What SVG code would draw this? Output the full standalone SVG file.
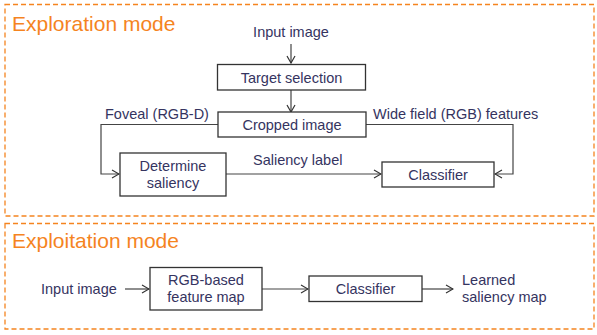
<svg xmlns="http://www.w3.org/2000/svg" width="597" height="335" viewBox="0 0 597 335">
<defs>
<style>
.frame{fill:none;stroke:#F5841F;stroke-width:1.3;stroke-dasharray:5,3}
.title{font-family:"Liberation Sans",Arial,sans-serif;font-size:21px;fill:#F5841F}
.t{font-family:"Liberation Sans",Arial,sans-serif;font-size:14.5px;fill:#35345F}
.box{fill:#fff;stroke:#333;stroke-width:1.3}
.c{fill:none;stroke:#444;stroke-width:1.2}
</style>
<marker id="ah" viewBox="0 0 10 10" refX="9" refY="5" markerWidth="10" markerHeight="10" markerUnits="userSpaceOnUse" orient="auto">
<path d="M2,1 L9,5 L2,9" fill="none" stroke="#333" stroke-width="1.2"/>
</marker>
</defs>
<rect width="597" height="335" fill="#fff"/>
<rect class="frame" x="5" y="4.5" width="589" height="211.5"/>
<rect class="frame" x="5" y="223.5" width="589" height="105.5"/>
<text class="title" x="12" y="31">Exploration mode</text>
<text class="title" x="12" y="248">Exploitation mode</text>
<g id="connectors">
<line class="c" x1="291" y1="44" x2="291" y2="63" marker-end="url(#ah)"/>
<line class="c" x1="291" y1="90" x2="291" y2="112" marker-end="url(#ah)"/>
<polyline class="c" points="218,124.5 101,124.5 101,174 119,174" marker-end="url(#ah)"/>
<polyline class="c" points="366,124.5 513,124.5 513,174 495,174" marker-end="url(#ah)"/>
<line class="c" x1="226" y1="174" x2="381" y2="174" marker-end="url(#ah)"/>
<line class="c" x1="125" y1="289" x2="149" y2="289" marker-end="url(#ah)"/>
<line class="c" x1="262" y1="289" x2="308" y2="289" marker-end="url(#ah)"/>
<line class="c" x1="422" y1="289" x2="453" y2="289" marker-end="url(#ah)"/>
<text class="t" x="105" y="119">Foveal (RGB-D)</text>
<text class="t" x="373" y="119">Wide field (RGB) features</text>
<text class="t" x="253" y="165">Saliency label</text>
</g>
<g id="input1"><text class="t" x="291" y="37" text-anchor="middle">Input image</text></g>
<g id="target"><rect class="box" x="217.5" y="64.5" width="148" height="25.5"/><text class="t" x="291.5" y="83" text-anchor="middle">Target selection</text></g>
<g id="cropped"><rect class="box" x="218" y="112" width="148" height="25"/><text class="t" x="292" y="130" text-anchor="middle">Cropped image</text></g>
<g id="determine"><rect class="box" x="120" y="153" width="106" height="43"/><text class="t" x="173" y="171" text-anchor="middle">Determine</text><text class="t" x="173" y="188" text-anchor="middle">saliency</text></g>
<g id="classifier1"><rect class="box" x="382" y="162" width="112" height="25"/><text class="t" x="438" y="180" text-anchor="middle">Classifier</text></g>
<g id="input2"><text class="t" x="41" y="294">Input image</text></g>
<g id="rgbmap"><rect class="box" x="150" y="267.5" width="112" height="42.5"/><text class="t" x="206" y="285" text-anchor="middle">RGB-based</text><text class="t" x="206" y="302" text-anchor="middle">feature map</text></g>
<g id="classifier2"><rect class="box" x="309" y="276" width="113" height="25.5"/><text class="t" x="365.5" y="294" text-anchor="middle">Classifier</text></g>
<g id="learned"><text class="t" x="462" y="285">Learned</text><text class="t" x="462" y="302">saliency map</text></g>
</svg>
